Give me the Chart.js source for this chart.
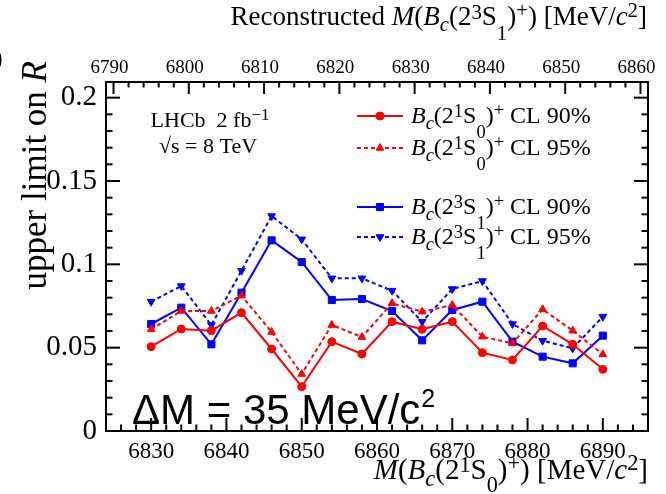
<!DOCTYPE html>
<html>
<head>
<meta charset="utf-8">
<script src="https://cdn.jsdelivr.net/npm/chart.js@4.4.1/dist/chart.umd.min.js"></script>
<style>
  html, body { margin: 0; padding: 0; background: #fff; }
  #wrap { width: 666px; height: 494px; }
</style>
</head>
<body>
<div id="wrap"><canvas id="limits"></canvas></div>
<script>
// M(Bc(2S)) hypotheses, MeV/c^2
const masses = [6830, 6834, 6838, 6842, 6846, 6850, 6854, 6858, 6862, 6866, 6870, 6874, 6878, 6882, 6886, 6890];

// upper limits on R
const singlet90 = [0.0506, 0.0612, 0.0602, 0.0710, 0.0492, 0.0266, 0.0536, 0.0462, 0.0656, 0.0610, 0.0656, 0.0470, 0.0426, 0.0630, 0.0520, 0.0370];
const singlet95 = [0.0610, 0.0720, 0.0720, 0.0812, 0.0594, 0.0342, 0.0636, 0.0564, 0.0766, 0.0716, 0.0756, 0.0566, 0.0526, 0.0730, 0.0602, 0.0460];
const triplet90 = [0.0642, 0.0740, 0.0520, 0.0830, 0.1144, 0.1014, 0.0786, 0.0792, 0.0720, 0.0544, 0.0726, 0.0776, 0.0536, 0.0446, 0.0406, 0.0572];
const triplet95 = [0.0776, 0.0870, 0.0636, 0.0962, 0.1290, 0.1150, 0.0916, 0.0916, 0.0842, 0.0656, 0.0852, 0.0900, 0.0642, 0.0542, 0.0496, 0.0686];

const bottomTicks = [6830, 6840, 6850, 6860, 6870, 6880, 6890];
const topTicks = [6790, 6800, 6810, 6820, 6830, 6840, 6850, 6860];
const yTicks = [0, 0.05, 0.1, 0.15, 0.2];

const RED = '#ff0000';
const BLUE = '#0000ff';
const SERIF = '"Liberation Serif", "Times New Roman", serif';

// rich text pieces: it = italic, sc = size factor, dy = baseline shift (em)
function bcState(n, s, l, drop) {
  return [
    { t: 'B', it: 1 }, { t: 'c', it: 1, sc: 0.77, dy: 0.23 }, { t: '(' + n },
    { t: s, sc: 0.77, dy: -0.23 }, { t: 'S' }, { t: l, sc: 0.77, dy: drop },
    { t: ')' }, { t: '+', sc: 0.77, dy: -0.3 }
  ];
}
const unitTail = [{ t: ') [MeV/' }, { t: 'c', it: 1 }, { t: '2', sc: 0.77, dy: -0.3 }, { t: ']' }];

function drawRich(ctx, parts, x, y, size, align) {
  const items = parts.map(p => {
    const font = (p.it ? 'italic ' : '') + (size * (p.sc || 1)) + 'px ' + SERIF;
    ctx.font = font;
    return { t: p.t, font: font, w: ctx.measureText(p.t).width, dy: (p.dy || 0) * size };
  });
  const total = items.reduce((s, it) => s + it.w, 0);
  let cx = align === 'right' ? x - total : (align === 'center' ? x - total / 2 : x);
  ctx.textAlign = 'left';
  ctx.textBaseline = 'alphabetic';
  items.forEach(it => {
    ctx.font = it.font;
    ctx.fillText(it.t, cx, y + it.dy);
    cx += it.w;
  });
  return total;
}

function series(values) {
  return values.map((v, i) => ({ x: masses[i], y: v }));
}

// frame, inward ticks, titles, legend and labels
const decorations = {
  id: 'decorations',
  afterDraw(chart) {
    const { ctx, chartArea: a } = chart;
    const sx = chart.scales.x, st = chart.scales.x2, sy = chart.scales.y;
    ctx.save();
    ctx.strokeStyle = '#000';
    ctx.fillStyle = '#000';
    ctx.lineWidth = 2;
    const line = (x1, y1, x2, y2) => {
      ctx.beginPath(); ctx.moveTo(x1, y1); ctx.lineTo(x2, y2); ctx.stroke();
    };

    // bottom axis ticks, every 2 MeV
    for (let v = Math.ceil(sx.min / 2) * 2; v <= sx.max; v += 2) {
      const px = sx.getPixelForValue(v);
      if (px <= a.left + 1 || px >= a.right - 1) continue;
      line(px, a.bottom, px, a.bottom - (v % 10 === 0 ? 13 : 6.5));
    }
    // top axis ticks
    for (let v = Math.ceil(st.min / 2) * 2; v <= st.max; v += 2) {
      const px = st.getPixelForValue(v);
      if (px <= a.left + 1 || px >= a.right - 1) continue;
      line(px, a.top, px, a.top + (v % 10 === 0 ? 12 : 5.5));
    }
    // y ticks on both sides
    for (let i = 0; i <= 20; i++) {
      const py = sy.getPixelForValue(i / 100);
      if (py >= a.bottom - 1) continue;
      const len = i % 5 === 0 ? 14 : 6.5;
      line(a.left, py, a.left + len, py);
      line(a.right, py, a.right - len, py);
    }
    ctx.strokeRect(a.left, a.top, a.right - a.left, a.bottom - a.top);

    // axis titles
    drawRich(ctx, [{ t: 'Reconstructed ' }, { t: 'M', it: 1 }, { t: '(' }]
      .concat(bcState('2', '3', '1', 0.55)).concat(unitTail), 647, 25, 27, 'right');
    drawRich(ctx, [{ t: 'M', it: 1 }, { t: '(' }]
      .concat(bcState('2', '1', '0', 0.45)).concat(unitTail), 648, 479, 29, 'right');
    ctx.save();
    ctx.translate(46, 61);
    ctx.rotate(-Math.PI / 2);
    drawRich(ctx, [{ t: 'upper limit on ' }, { t: 'R', it: 1 }], 0, 0, 35, 'right');
    ctx.restore();

    // experiment label
    drawRich(ctx, [{ t: 'LHCb  2 fb' }, { t: '\u22121', sc: 0.77, dy: -0.3 }], 210, 127, 22, 'center');
    drawRich(ctx, [{ t: '\u221As = 8 TeV' }], 208, 153, 22, 'center');

    // legend
    const rows = [116, 148, 207, 237];
    chart.data.datasets.forEach((ds, i) => {
      const y = rows[i];
      ctx.save();
      ctx.strokeStyle = ds.borderColor;
      ctx.fillStyle = ds.backgroundColor;
      ctx.lineWidth = ds.borderWidth;
      ctx.setLineDash(ds.borderDash || []);
      line(357, y, 403, y);
      ctx.setLineDash([]);
      ctx.lineWidth = 1;
      Chart.helpers.drawPoint(ctx, {
        pointStyle: ds.pointStyle, radius: ds.pointRadius,
        rotation: ds.pointRotation || 0, borderWidth: 1
      }, 380, y);
      ctx.restore();
      ctx.fillStyle = '#000';
      drawRich(ctx, ds.parts.concat([{ t: ds.cl }]), 411, y + 7, 24, 'left');
    });

    // mass splitting label
    ctx.fillStyle = '#000';
    ctx.textAlign = 'left';
    ctx.textBaseline = 'alphabetic';
    ctx.font = '42px "Liberation Sans", Arial, sans-serif';
    const dm = 'ΔM = 35 MeV/c';
    ctx.fillText(dm, 132, 424);
    const w = ctx.measureText(dm).width;
    ctx.font = '25px "Liberation Sans", Arial, sans-serif';
    ctx.fillText('2', 132 + w + 1, 407);

    // clipped glyph at the left edge
    ctx.font = '26px ' + SERIF;
    ctx.fillText(')', -6, 66);
    ctx.restore();
  }
};

const ctx = document.getElementById('limits').getContext('2d');

const limitsChart = new Chart(ctx, {
  type: 'line',
  data: {
    datasets: [
      {
        label: 'Bc(2 1S0)+ CL 90%', parts: bcState('2', '1', '0', 0.62), cl: ' CL 90%',
        data: series(singlet90),
        borderColor: RED, backgroundColor: RED, borderWidth: 2,
        pointStyle: 'circle', pointRadius: 4, pointBorderWidth: 1
      },
      {
        label: 'Bc(2 1S0)+ CL 95%', parts: bcState('2', '1', '0', 0.62), cl: ' CL 95%',
        data: series(singlet95),
        borderColor: RED, backgroundColor: RED, borderWidth: 2, borderDash: [4, 3],
        pointStyle: 'triangle', pointRadius: 4.5, pointBorderWidth: 1
      },
      {
        label: 'Bc(2 3S1)+ CL 90%', parts: bcState('2', '3', '1', 0.62), cl: ' CL 90%',
        data: series(triplet90),
        borderColor: BLUE, backgroundColor: BLUE, borderWidth: 2,
        pointStyle: 'rect', pointRadius: 5, pointBorderWidth: 1
      },
      {
        label: 'Bc(2 3S1)+ CL 95%', parts: bcState('2', '3', '1', 0.62), cl: ' CL 95%',
        data: series(triplet95),
        borderColor: BLUE, backgroundColor: BLUE, borderWidth: 2, borderDash: [4, 3],
        pointStyle: 'triangle', pointRotation: 180, pointRadius: 4.5, pointBorderWidth: 1
      }
    ]
  },
  options: {
    responsive: true,
    maintainAspectRatio: false,
    animation: false,
    events: [],
    layout: { padding: { left: 0, right: 18, top: 0, bottom: 0 }, autoPadding: false },
    plugins: { legend: { display: false }, tooltip: { enabled: false } },
    elements: { line: { tension: 0, fill: false } },
    scales: {
      x: {
        type: 'linear', position: 'bottom', min: 6824, max: 6896,
        grid: { display: false, drawTicks: false }, border: { display: false },
        afterBuildTicks: s => { s.ticks = bottomTicks.map(v => ({ value: v })); },
        afterFit: s => { s.height = 63; s.paddingLeft = 0; s.paddingRight = 0; },
        ticks: {
          autoSkip: false, maxRotation: 0, padding: 7, color: '#000',
          font: { family: SERIF, size: 23 }, callback: v => String(v)
        }
      },
      x2: {
        type: 'linear', position: 'top', min: 6789, max: 6861,
        grid: { display: false, drawTicks: false }, border: { display: false },
        afterBuildTicks: s => { s.ticks = topTicks.map(v => ({ value: v })); },
        afterFit: s => { s.height = 82; s.paddingLeft = 0; s.paddingRight = 0; },
        ticks: {
          autoSkip: false, maxRotation: 0, padding: 3, labelOffset: -4, color: '#000',
          font: { family: SERIF, size: 19 }, callback: v => String(v)
        }
      },
      y: {
        type: 'linear', position: 'left', min: 0, max: 0.2094,
        grid: { display: false, drawTicks: false }, border: { display: false },
        afterBuildTicks: s => { s.ticks = yTicks.map(v => ({ value: v })); },
        afterFit: s => { s.width = 106; s.paddingTop = 0; s.paddingBottom = 0; },
        ticks: {
          autoSkip: false, padding: 9, color: '#000',
          font: { family: SERIF, size: 29 }, callback: v => String(v)
        }
      }
    }
  },
  plugins: [decorations]
});
</script>
</body>
</html>
